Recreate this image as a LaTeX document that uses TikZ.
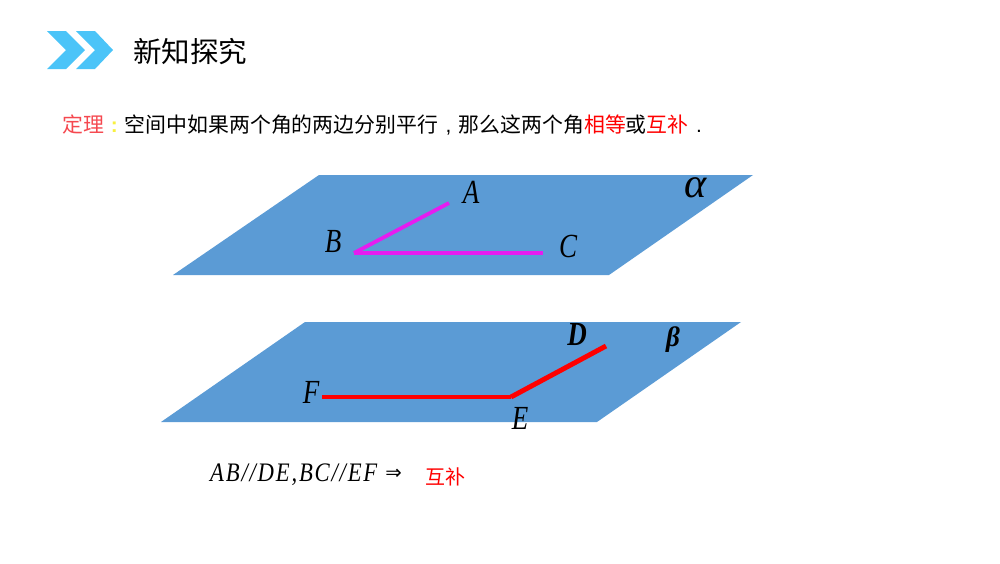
\documentclass[tikz,border=0pt]{standalone}
\usepackage{xcolor}
\usepackage{fontspec}
\setmainfont{Liberation Serif}
\setsansfont{Liberation Sans}
\newfontfamily\cjk{Noto Sans CJK SC}
\newfontfamily\symb{DejaVu Sans}
\definecolor{plane}{HTML}{5B9BD5}
\definecolor{chev}{HTML}{4BC4F8}
\definecolor{magen}{HTML}{E61CF0}
\definecolor{thmred}{HTML}{F5484F}
\definecolor{thmyel}{HTML}{F8F040}
\usetikzlibrary{calc,positioning}
\newcommand{\punct}[1]{\makebox[1em]{\sffamily #1}}
\tikzset{
  plan/.style={fill=plane,draw=none},
  chevron/.style={fill=chev,draw=none},
  seg1/.style={draw=magen,line width=2.7pt},
  seg2/.style={draw=red,line width=3.5pt},
  pt/.style={font=\itshape\fontsize{24}{24}\selectfont,inner sep=0pt,xscale=0.8,transform shape},
  ptb/.style={pt,font=\bfseries\itshape\fontsize{24}{24}\selectfont},
  title/.style={font=\cjk\fontsize{20.3}{24}\selectfont,inner sep=0pt,anchor=west},
  body/.style={font=\cjk\fontsize{14.85}{18}\selectfont,inner sep=0pt,anchor=west},
}
\begin{document}
\begin{tikzpicture}[x=0.25mm,y=-0.25mm]
  \useasboundingbox (0,0) rectangle (1000,563);
  %chevrons
  \fill[chevron] (47,31) -- (66,31) -- (85,50) -- (66,69) -- (47,69) -- (66,50) -- cycle;
  \fill[chevron] (76,31) -- (95,31) -- (113,50) -- (95,69) -- (76,69) -- (95,50) -- cycle;
  \node[title] (head) at (133,52) {新知探究};
  \node[body] (thm) at (62,125) {\textcolor{thmred}{定理}\textcolor{thmyel}{\punct{\bfseries :}}空间中如果两个角的两边分别平行\punct{,}那么这两个角\textcolor{red}{相等}或\textcolor{red}{互补}\punct{.}};

  %plane alpha
  \fill[plan] (173,275) -- (319,175) -- (753,175) -- (609,275) -- cycle;
  \coordinate (a) at (449,203);
  \coordinate (b) at (354,253);
  \coordinate (c) at (543,253);
  \node[pt] (la) at (471,192) {A};
  \node[pt] (lb) at (333,241) {B};
  \node[pt] (lc) at (568,246) {C};
  \node[pt,font=\itshape\fontsize{30}{30}\selectfont,xscale=1.25] (lalpha) at (696,188) {α};

  %plane beta
  \fill[plan] (161,422) -- (305,322) -- (741,322) -- (597,422) -- cycle;
  \coordinate (d) at (606,346);
  \coordinate (e) at (511,397);
  \coordinate (f) at (322,397);
  \node[ptb] (ld) at (577,334) {D};
  \node[pt] (le) at (520,418) {E};
  \node[pt] (lf) at (311,392) {F};
  \node[ptb,font=\bfseries\itshape\fontsize{20}{20}\selectfont,xscale=1.2] (lbeta) at (673,340) {β};

  \path[seg1]
    (a) edge (b)
    (b) edge (c);
  \path[seg2]
    (d) edge (e)
    (e) edge (f);

  \node[pt,font=\itshape\fontsize{19}{19}\selectfont\addfontfeature{LetterSpace=8},anchor=west,xscale=1.06] (rule) at (210,475) {AB//DE,BC//EF};
  \node[inner sep=0pt,font=\symb\fontsize{14}{14}\selectfont,anchor=west] (imp) at (385,474) {⇒};
  \node[body,text=red,font=\cjk\fontsize{14.2}{17}\selectfont] (res) at (425,477) {互补};
\end{tikzpicture}
\end{document}
